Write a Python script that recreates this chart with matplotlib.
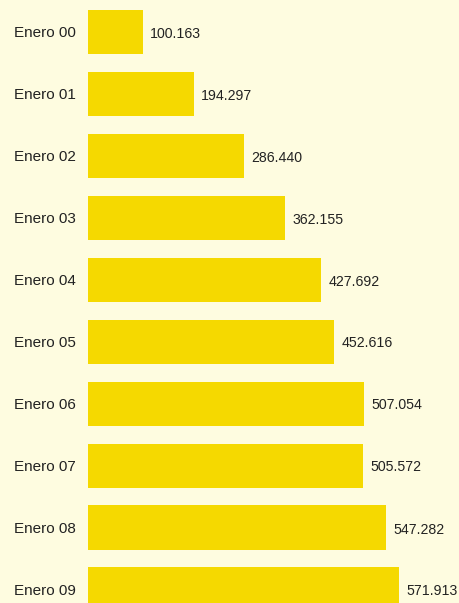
from matplotlib import pyplot as plt
import numpy as np

# datos
meses = ['Enero 00', 'Enero 01', 'Enero 02', 'Enero 03', 'Enero 04',
         'Enero 05', 'Enero 06', 'Enero 07', 'Enero 08', 'Enero 09']
valores = [100163, 194297, 286440, 362155, 427692,
           452616, 507054, 505572, 547282, 571913]
etiquetas = ['100.163', '194.297', '286.440', '362.155', '427.692',
             '452.616', '507.054', '505.572', '547.282', '571.913']

fondo = '#FEFCE0'
amarillo = '#F5D900'

plt.rcParams['font.family'] = ['Liberation Sans', 'DejaVu Sans']

fig = plt.figure(figsize=(4.59, 6.03), dpi=100, facecolor=fondo)
ax = fig.add_axes([88 / 459, 0, (459 - 88) / 459, 1])
ax.set_facecolor(fondo)

pos = np.arange(len(meses))
ax.barh(pos, valores, height=44 / 62, color=amarillo, edgecolor='none')

# escala: ~0.5445 px por unidad (en miles)
ax.set_xlim(0, (459 - 88) / 0.5445 * 1000)
top = -31.5 / 62
ax.set_ylim(top + 603 / 62, top)

for i, (v, t) in enumerate(zip(valores, etiquetas)):
    ax.annotate(t, (v, i), xytext=(7.5, -2), textcoords='offset pixels',
                ha='left', va='center', fontsize=10.2, color='#222222')

ax.set_yticks(pos)
ax.set_yticklabels(meses, fontsize=11, color='#222222')
ax.tick_params(axis='y', length=0, pad=8.5)
ax.set_xticks([])
for s in ax.spines.values():
    s.set_visible(False)

fig.savefig('out.png', dpi=100, facecolor=fondo)
